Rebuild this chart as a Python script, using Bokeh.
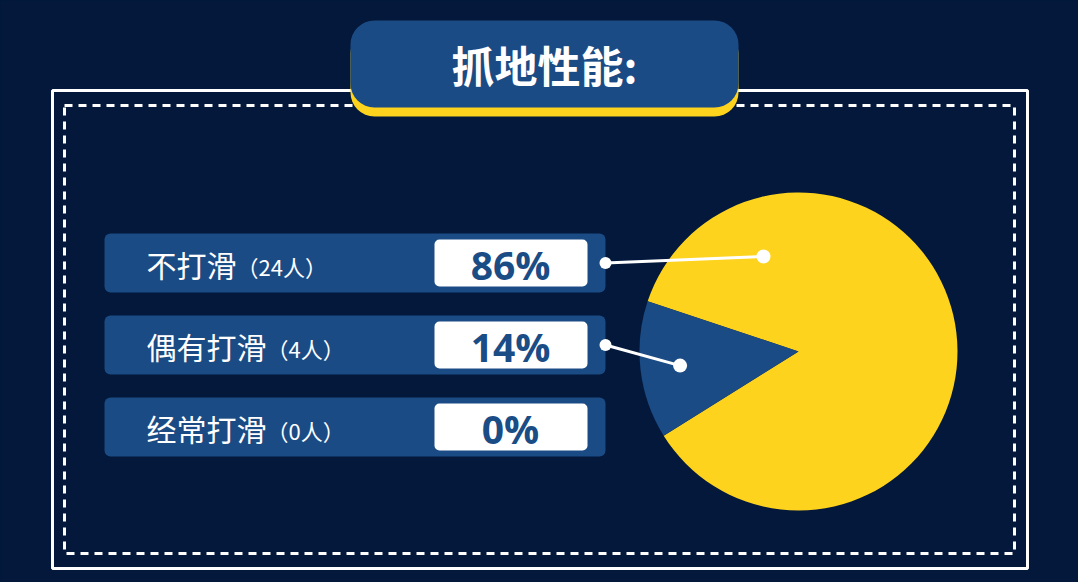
import math
from bokeh.plotting import figure
from bokeh.models import Range1d, ColumnDataSource
from bokeh.core.properties import value
from bokeh.embed import file_html
from bokeh.resources import INLINE

# ---- data ----
title_text = "抓地性能:"
categories = ["不打滑", "偶有打滑", "经常打滑"]
counts = [24, 4, 0]
percents = [86, 14, 0]

# ---- style ----
BG = "#03183b"
BLUE = "#1b4b84"
TEXT_BLUE = "#1a4c86"
YELLOW = "#fdd31d"
WHITE = "#ffffff"
CJK = value("Noto Sans CJK SC")
LAT = value("Open Sans")

W, H = 1078, 582
# data coords == page pixel coords (y flipped)
def Y(py):
    return H - py

p = figure(width=W, height=H, output_backend="svg", toolbar_location=None,
           x_range=Range1d(0, W), y_range=Range1d(0, H),
           min_border=0, background_fill_color=BG, border_fill_color=BG,
           outline_line_color=None)
p.axis.visible = False
p.grid.visible = False

# frame: outer solid + inner dashed
p.quad(left=[52], right=[1027], top=[Y(90)], bottom=[Y(568)],
       fill_color=None, line_color=WHITE, line_width=3)
p.quad(left=[64], right=[1014], top=[Y(105)], bottom=[Y(553)],
       fill_color=None, line_color=WHITE, line_width=3, line_dash="8 6")

# title box
p.quad(left=[350], right=[738], top=[Y(29)], bottom=[Y(116)],
       fill_color=YELLOW, line_color=None, border_radius=24)
p.quad(left=[350], right=[738], top=[Y(20)], bottom=[Y(107)],
       fill_color=BLUE, line_color=None, border_radius=24)
p.text(x=[544], y=[Y(63)], text=[title_text], text_font=CJK,
       text_font_size="43px", text_font_style="bold", text_color=WHITE,
       text_align="center", text_baseline="middle")

# label bars
n = len(categories)
bar_y = [Y(262.5 + 82 * i) for i in range(n)]
src = ColumnDataSource(dict(
    y=bar_y,
    cat=categories,
    cnt=["（%d人）" % c for c in counts],
    pct=["%d%%" % v for v in percents],
    cnt_x=[146 + 30 * len(c) for c in categories],
))
p.hbar(y="y", left=104, right=605, height=59, source=src,
       fill_color=BLUE, line_color=None, border_radius=6)
p.hbar(y="y", left=434, right=587, height=47, source=src,
       fill_color=WHITE, line_color=None, border_radius=5)
p.text(x=146, y="y", text="cat", source=src, text_font=CJK,
       text_font_size="30px", text_color=WHITE, text_baseline="middle",
       y_offset=1)
p.text(x="cnt_x", y="y", text="cnt", source=src, text_font=CJK,
       text_font_size="22px", text_color=WHITE, text_baseline="middle",
       y_offset=3)
p.text(x=510, y="y", text="pct", source=src, text_font=LAT,
       text_font_size="39px", text_font_style="bold", text_color=TEXT_BLUE,
       text_align="center", text_baseline="middle", y_offset=1)

# pie
cx, cy, R = 798, Y(351), 159
start_deg = 212.0
slice_colors = [YELLOW, BLUE, "#8aa0c0"]
starts, ends, cols, mids = [], [], [], []
acc = start_deg
for v, c in zip(percents, slice_colors):
    if v <= 0:
        continue
    a0 = acc
    a1 = acc + v / 100 * 360
    starts.append(math.radians(a0))
    ends.append(math.radians(a1))
    cols.append(c)
    mids.append((a0 + a1) / 2)
    acc = a1
p.wedge(x=cx, y=cy, radius=R, start_angle=starts, end_angle=ends,
        fill_color=cols, line_color=None)

# callouts (label end -> point inside slice)
label_ends_x = [605, 605]
label_ends_y = [bar_y[0], bar_y[1]]
pie_pts = [(763, Y(256)),
           (cx + 0.75 * R * math.cos(math.radians(mids[1])),
            cy + 0.75 * R * math.sin(math.radians(mids[1])))]
for (lx, ly, (px, py)) in zip(label_ends_x, label_ends_y, pie_pts):
    p.line(x=[lx, px], y=[ly, py], line_color=WHITE, line_width=3)
p.scatter(x=label_ends_x, y=label_ends_y, size=12, fill_color=WHITE,
          line_color=None)
p.scatter(x=[q[0] for q in pie_pts], y=[q[1] for q in pie_pts], size=14,
          fill_color=WHITE, line_color=None)

html = file_html(p, INLINE)
html = html.replace("<head>", "<head><style>html,body{background:%s;}</style>" % BG, 1)
open("out.html", "w").write(html)
